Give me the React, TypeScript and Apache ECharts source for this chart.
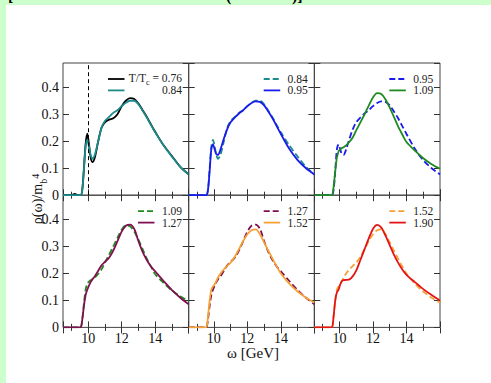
import React, { useEffect, useRef } from "react";
import * as echarts from "echarts";

// omega grid [GeV]
const omega = [8.5, 9.0, 9.2, 9.4, 9.55, 9.65, 9.75, 9.85, 9.95, 10.05, 10.15, 10.25, 10.4, 10.6, 10.8, 11.0, 11.25, 11.5, 11.75, 12.0, 12.25, 12.5, 12.75, 13.0, 13.25, 13.5, 13.75, 14.0, 14.5, 15.0, 15.5, 16.0];

// rho(omega)/m_b^4 for each T/Tc
const rho076 = [0, 0, 0.005, 0, 0, 0.02, 0.10, 0.19, 0.228, 0.19, 0.14, 0.123, 0.14, 0.20, 0.25, 0.27, 0.28, 0.285, 0.30, 0.33, 0.35, 0.36, 0.357, 0.34, 0.315, 0.29, 0.262, 0.235, 0.185, 0.145, 0.105, 0.077];
const rho084 = [0, 0, 0, 0, 0, 0.02, 0.10, 0.18, 0.205, 0.18, 0.15, 0.135, 0.15, 0.20, 0.25, 0.275, 0.29, 0.305, 0.315, 0.33, 0.343, 0.35, 0.35, 0.337, 0.313, 0.288, 0.26, 0.233, 0.185, 0.143, 0.105, 0.077];
const rho095 = [0, 0, 0, 0, 0, 0.02, 0.09, 0.17, 0.188, 0.17, 0.152, 0.15, 0.17, 0.21, 0.245, 0.27, 0.288, 0.303, 0.315, 0.33, 0.342, 0.348, 0.346, 0.333, 0.31, 0.285, 0.256, 0.227, 0.172, 0.13, 0.1, 0.077];
const rho109 = [0, 0, 0, 0, 0, 0.03, 0.09, 0.14, 0.162, 0.17, 0.175, 0.178, 0.185, 0.198, 0.215, 0.24, 0.27, 0.3, 0.332, 0.362, 0.378, 0.375, 0.355, 0.325, 0.29, 0.255, 0.225, 0.197, 0.165, 0.137, 0.115, 0.098];
const rho127 = [0, 0, 0, 0, 0, 0.03, 0.08, 0.12, 0.14, 0.155, 0.168, 0.178, 0.19, 0.21, 0.23, 0.243, 0.258, 0.285, 0.32, 0.355, 0.377, 0.381, 0.365, 0.32, 0.28, 0.25, 0.226, 0.208, 0.172, 0.138, 0.11, 0.086];
const rho152 = [0, 0, 0, 0, 0, 0.04, 0.1, 0.14, 0.152, 0.16, 0.172, 0.185, 0.2, 0.215, 0.228, 0.24, 0.262, 0.29, 0.32, 0.345, 0.36, 0.363, 0.345, 0.315, 0.284, 0.255, 0.226, 0.2, 0.162, 0.133, 0.11, 0.092];
const rho190 = [0, 0, 0, 0, 0, 0.04, 0.1, 0.13, 0.14, 0.16, 0.172, 0.175, 0.176, 0.178, 0.19, 0.21, 0.25, 0.29, 0.33, 0.365, 0.38, 0.37, 0.34, 0.305, 0.27, 0.24, 0.215, 0.195, 0.168, 0.142, 0.12, 0.1];

const xTickLabels = ["10", "12", "14"];
const yTickLabels = ["0", "0.1", "0.2", "0.3", "0.4"];

const FONT = "Liberation Serif, serif";

const C = {
  black: "#000000",
  teal: "#1b8b8b",
  blue: "#1a1aee",
  green: "#1f8a1f",
  purple: "#7f1150",
  orange: "#f4a236",
  red: "#e31414",
};

type Curve = { values: number[]; label: string; color: string; dashed: boolean };

const panels: { a: Curve; b: Curve }[] = [
  { a: { values: rho076, label: "0.76", color: C.black, dashed: false }, b: { values: rho084, label: "0.84", color: C.teal, dashed: false } },
  { a: { values: rho084, label: "0.84", color: C.teal, dashed: true }, b: { values: rho095, label: "0.95", color: C.blue, dashed: false } },
  { a: { values: rho095, label: "0.95", color: C.blue, dashed: true }, b: { values: rho109, label: "1.09", color: C.green, dashed: false } },
  { a: { values: rho109, label: "1.09", color: C.green, dashed: true }, b: { values: rho127, label: "1.27", color: C.purple, dashed: false } },
  { a: { values: rho127, label: "1.27", color: C.purple, dashed: true }, b: { values: rho152, label: "1.52", color: C.orange, dashed: false } },
  { a: { values: rho152, label: "1.52", color: C.orange, dashed: true }, b: { values: rho190, label: "1.90", color: C.red, dashed: false } },
];

const GRID_LEFTS = [63, 188.7, 314.3];
const GRID_TOPS = [63, 195.2];
const GRID_W = 125.7;
const GRID_H = 132.2;
const DASH = [6, 3];

function buildOption() {
  const grid: any[] = [];
  const xAxis: any[] = [];
  const yAxis: any[] = [];
  const series: any[] = [];
  const graphic: any[] = [];

  graphic.push({ type: "rect", shape: { x: 6, y: 5, width: 485, height: 378 }, style: { fill: "#ffffff" }, z: -10, silent: true });
  graphic.push({ type: "text", x: 8, y: 3.5, style: { text: "[", font: `bold 16px ${FONT}`, fill: "#000", verticalAlign: "bottom" } });
  graphic.push({ type: "text", x: 226, y: 3.5, style: { text: "(", font: `bold 16px ${FONT}`, fill: "#000", verticalAlign: "bottom" } });
  graphic.push({ type: "text", x: 292, y: 3.5, style: { text: ")]", font: `bold 16px ${FONT}`, fill: "#000", verticalAlign: "bottom" } });

  const tickColor = "#333";

  panels.forEach((p, i) => {
    const row = Math.floor(i / 3);
    const col = i % 3;
    const L = GRID_LEFTS[col];
    const T = GRID_TOPS[row];
    grid.push({ left: L, top: T, width: GRID_W, height: GRID_H, show: true, borderColor: "#444", borderWidth: 1, backgroundColor: "transparent" });

    const xBase = {
      type: "value",
      gridIndex: i,
      min: 8.5,
      max: 16,
      splitNumber: 4,
      axisLine: { show: false },
      axisTick: { show: true, inside: true, length: 6, lineStyle: { color: tickColor, width: 1 } },
      minorTick: { show: true, splitNumber: 2, length: 3.5, lineStyle: { color: tickColor, width: 1 } },
      splitLine: { show: false },
      minorSplitLine: { show: false },
    };
    xAxis.push({
      ...xBase,
      position: "bottom",
      axisLabel: {
        show: row === 1,
        showMinLabel: false,
        showMaxLabel: false,
        fontSize: 14,
        fontFamily: FONT,
        color: "#111",
        margin: 4,
        formatter: (v: number) => (xTickLabels.includes(String(v)) ? String(v) : ""),
      },
    });
    xAxis.push({ ...xBase, position: "top", axisLabel: { show: false } });

    const yBase = {
      type: "value",
      gridIndex: i,
      min: 0,
      max: 0.49,
      interval: 0.1,
      axisLine: { show: false },
      axisTick: { show: true, inside: true, length: 6, lineStyle: { color: tickColor, width: 1 } },
      splitLine: { show: false },
    };
    yAxis.push({
      ...yBase,
      position: "left",
      axisLabel: {
        show: col === 0,
        showMaxLabel: false,
        fontSize: 14,
        fontFamily: FONT,
        color: "#111",
        margin: 4,
        formatter: (v: number) => {
          const s = v === 0 ? "0" : v.toFixed(1);
          return yTickLabels.includes(s) ? s : "";
        },
      },
    });
    yAxis.push({ ...yBase, position: "right", axisLabel: { show: false } });

    [p.a, p.b].forEach((c, k) => {
      const s: any = {
        type: "line",
        name: `${c.label}-${i}-${k}`,
        xAxisIndex: 2 * i,
        yAxisIndex: 2 * i,
        data: omega.map((w, j) => [w, c.values[j]]),
        symbol: "none",
        showSymbol: false,
        smooth: 0.3,
        lineStyle: { color: c.color, width: 1.8, type: c.dashed ? DASH : "solid" },
        z: 3 + k,
        silent: true,
      };
      if (i === 0 && k === 0) {
        s.markLine = {
          silent: true,
          symbol: ["none", "none"],
          label: { show: false },
          lineStyle: { type: [4, 3], color: "#000", width: 1 },
          data: [{ xAxis: 10 }],
        };
      }
      series.push(s);

      // legend
      const ly = T + (k === 0 ? 16 : 27.4);
      const lx0 = i === 0 ? L + 45 : L + 75;
      graphic.push({
        type: "line",
        shape: { x1: lx0, y1: ly, x2: lx0 + 16.5, y2: ly },
        style: { stroke: c.color, lineWidth: 1.8, lineDash: c.dashed ? DASH : null },
        silent: true,
      });
      const isFirst = i === 0 && k === 0;
      graphic.push({
        type: "text",
        x: L + 119,
        y: ly,
        silent: true,
        style: isFirst
          ? {
              text: `{a|T/T}{b|c}{a| = ${c.label}}`,
              align: "right",
              verticalAlign: "middle",
              fill: "#222",
              rich: {
                a: { fontSize: 11.5, fontFamily: FONT, lineHeight: 14, verticalAlign: "top", fill: "#222" },
                b: { fontSize: 8, fontFamily: FONT, lineHeight: 8, verticalAlign: "bottom", fill: "#222" },
              },
            }
          : {
              text: c.label,
              align: "right",
              verticalAlign: "middle",
              font: `11.5px ${FONT}`,
              fill: "#222",
            },
      });
    });
  });

  // axis titles
  graphic.push({
    type: "text",
    x: 39,
    y: 199,
    rotation: Math.PI / 2,
    silent: true,
    style: {
      text: "{a|ρ(ω)/m}{b|b}{c|4}",
      align: "center",
      verticalAlign: "middle",
      fill: "#111",
      rich: {
        a: { fontSize: 14, fontFamily: FONT, lineHeight: 18, verticalAlign: "top", fill: "#111" },
        b: { fontSize: 10, fontFamily: FONT, lineHeight: 10, verticalAlign: "bottom", fill: "#111" },
        c: { fontSize: 10, fontFamily: FONT, lineHeight: 10, verticalAlign: "top", fill: "#111" },
      },
    },
  });
  graphic.push({
    type: "text",
    x: 253,
    y: 353,
    silent: true,
    style: { text: "ω [GeV]", align: "center", verticalAlign: "middle", font: `15px ${FONT}`, fill: "#111" },
  });

  return {
    animation: false,
    backgroundColor: "#ccffcc",
    grid,
    xAxis,
    yAxis,
    series,
    graphic,
  };
}

export default function App() {
  const ref = useRef<HTMLDivElement>(null);
  useEffect(() => {
    if (!ref.current) return;
    const chart = echarts.init(ref.current, null, { renderer: "svg" });
    chart.setOption(buildOption() as any);
    return () => chart.dispose();
  }, []);
  return <div ref={ref} style={{ position: "fixed", left: 0, top: 0, width: 491, height: 383 }} />;
}
